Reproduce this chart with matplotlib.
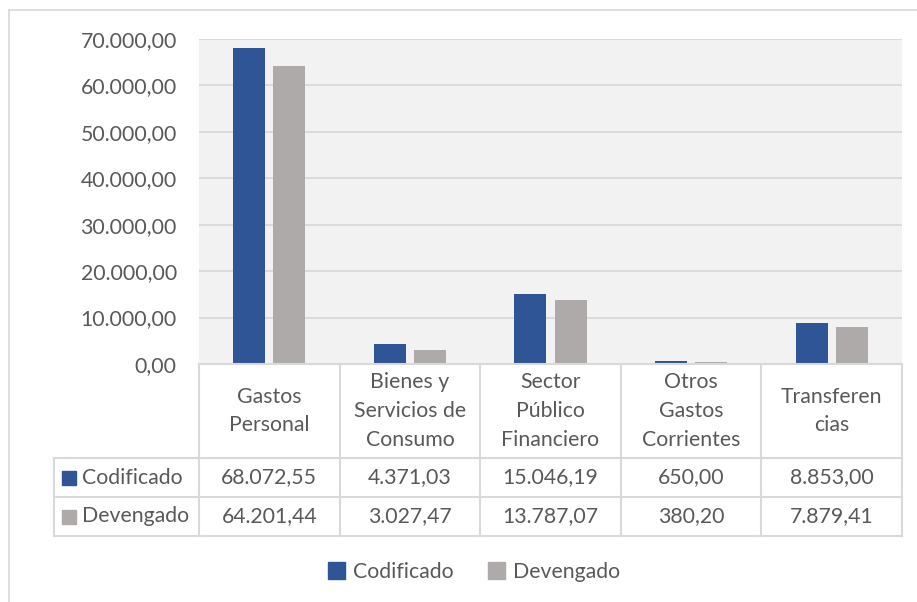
import numpy as np
import matplotlib
matplotlib.use("Agg")
import matplotlib.pyplot as plt
from matplotlib.lines import Line2D
from matplotlib.patches import Patch, Rectangle

# data
categories = ["Gastos\nPersonal", "Bienes y\nServicios de\nConsumo", "Sector\nPúblico\nFinanciero",
              "Otros\nGastos\nCorrientes", "Transferen\ncias"]
codificado = [68072.55, 4371.03, 15046.19, 650.00, 8853.00]
devengado = [64201.44, 3027.47, 13787.07, 380.20, 7879.41]
series_names = ["Codificado", "Devengado"]
yticks = [0, 10000, 20000, 30000, 40000, 50000, 60000, 70000]

BLUE = "#2F5597"
GRAY = "#AEAAAA"
TXT = "#595959"
LINE = "#D9D9D9"

plt.rcParams['font.family'] = ['Lato', 'DejaVu Sans']
FS = 15.3

W, H = 917, 602


def fx(px):
    return px / W


def fy(py):
    return 1 - py / H


def es_fmt(v):
    # spanish number format 12.345,67
    return f"{v:,.2f}".replace(",", "X").replace(".", ",").replace("X", ".")


fig = plt.figure(figsize=(W / 100, H / 100), dpi=100)

# plot area
left, right, top, bottom = 199, 902, 39, 364
ax = fig.add_axes([fx(left), fy(bottom), fx(right - left), (bottom - top) / H])
ax.set_facecolor("#F2F2F2")
x = np.arange(len(categories))
ax.bar(x - 0.143, codificado, width=0.228, color=BLUE, zorder=3)
ax.bar(x + 0.143, devengado, width=0.228, color=GRAY, zorder=3)
ax.set_xlim(-0.5, len(categories) - 0.5)
ax.set_ylim(0, 70000)
ax.set_yticks(yticks)
ax.set_yticklabels([es_fmt(v) for v in yticks], fontsize=FS, color=TXT)
ax.tick_params(axis="y", length=0, pad=16)
ax.set_xticks([])
ax.grid(axis="y", color=LINE, lw=1.3, zorder=0)
for s in ax.spines.values():
    s.set_visible(False)

# outer chart frame (top and left edges visible)
fig.add_artist(Line2D([fx(9), 1], [fy(10), fy(10)], color=LINE, lw=1.2))
fig.add_artist(Line2D([fx(9), fx(9)], [fy(10), 0], color=LINE, lw=1.2))

# data table below the plot
col_edges = [left + i * (right - left) / len(categories) for i in range(len(categories) + 1)]
row_edges = [364, 458, 497, 536]
tab_left = 54
lw = 1.5
# horizontal lines
fig.add_artist(Line2D([fx(left), fx(right)], [fy(row_edges[0])] * 2, color=LINE, lw=lw))
for r in row_edges[1:]:
    fig.add_artist(Line2D([fx(tab_left), fx(right)], [fy(r)] * 2, color=LINE, lw=lw))
# vertical lines
for c in col_edges:
    fig.add_artist(Line2D([fx(c)] * 2, [fy(row_edges[0]), fy(row_edges[-1])], color=LINE, lw=lw))
fig.add_artist(Line2D([fx(tab_left)] * 2, [fy(row_edges[1]), fy(row_edges[-1])], color=LINE, lw=lw))

# header cells
for i, cat in enumerate(categories):
    cx = (col_edges[i] + col_edges[i + 1]) / 2
    cy = (row_edges[0] + row_edges[1]) / 2
    fig.text(fx(cx), fy(cy), cat, ha="center", va="center", fontsize=FS, color=TXT,
             linespacing=1.55, multialignment="center")

# value rows
for j, (name, vals, col) in enumerate(zip(series_names, [codificado, devengado], [BLUE, GRAY])):
    cy = (row_edges[j + 1] + row_edges[j + 2]) / 2
    fig.add_artist(Rectangle((fx(62), fy(cy + 7)), fx(14), 14 / H, color=col))
    fig.text(fx(82), fy(cy), name, ha="left", va="center", fontsize=FS, color=TXT)
    for i, v in enumerate(vals):
        cx = (col_edges[i] + col_edges[i + 1]) / 2
        fig.text(fx(cx), fy(cy), es_fmt(v), ha="center", va="center", fontsize=FS, color=TXT)

# legend
handles = [Patch(color=BLUE, label=series_names[0]), Patch(color=GRAY, label=series_names[1])]
leg = fig.legend(handles=handles, loc="center", bbox_to_anchor=(fx(474), fy(572)), ncol=2,
                 frameon=False, fontsize=FS, handlelength=0.8, handleheight=0.8,
                 handletextpad=0.4, columnspacing=1.6)
for t in leg.get_texts():
    t.set_color(TXT)

fig.savefig("out.png", dpi=100, facecolor="white")
